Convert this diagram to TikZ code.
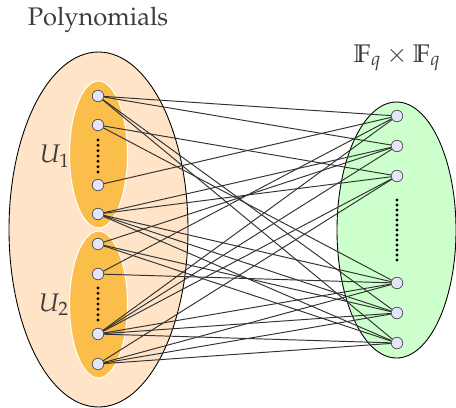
\documentclass[tikz,border=0pt]{standalone}
\usepackage[T1]{fontenc}
\usepackage{amsmath}
\usepackage{mathpazo}
\usepackage{tikz}
\usetikzlibrary{positioning,calc}

\definecolor{peach}{RGB}{255,228,200}
\definecolor{setorange}{RGB}{252,190,75}
\definecolor{setgreen}{RGB}{204,255,204}
\definecolor{vtxfill}{RGB}{228,228,250}
\definecolor{txtgray}{RGB}{60,60,60}

\tikzset{
  vtx/.style={circle,draw=black!70,fill=vtxfill,line width=0.4pt,inner sep=0pt,minimum size=0.23cm},
  edge/.style={black!80,line width=0.55pt},
  lbl/.style={text=txtgray,font=\fontsize{14.5}{17}\selectfont}
}

\begin{document}
\begin{tikzpicture}[x=0.02cm,y=-0.02cm]
        \useasboundingbox (0,0) rectangle (456,407);
        % the three sets
        \filldraw[fill=peach,draw=black,line width=0.5pt] (98.5,229.5) ellipse [x radius=89.5,y radius=177.5];
        \filldraw[fill=setorange,draw=white,line width=0.6pt] (98.5,154.5) ellipse [x radius=29,y radius=73.5];
        \filldraw[fill=setorange,draw=white,line width=0.6pt] (98.5,304.5) ellipse [x radius=29,y radius=73.5];
        \filldraw[fill=setgreen,draw=black,line width=0.5pt] (396.5,230) ellipse [x radius=59.5,y radius=128];
        % labels
        \node[lbl] (poly) at (98,20) {Polynomials};
        \node[lbl,anchor=base] (field) at (397,62) {$\mathbb{F}_q\times\mathbb{F}_q$};
        \node[lbl] (u1) at (55,156) {$U_1$};
        \node[lbl] (u2) at (54,305) {$U_2$};
        % dots
        \foreach \y in {0,...,6}{\fill (98,140+5.33*\y) circle [radius=1.6];}
        \foreach \y in {0,...,6}{\fill (98,288+5.33*\y) circle [radius=1.6];}
        \foreach \y in {0,...,12}{\fill (397,200+5*\y) circle [radius=1.6];}
        % vertices
        \foreach \i/\y in {1/96,2/125,3/185,4/214,5/244,6/274,7/334,8/364}
          \node[vtx] (l\i) at (98,\y) {};
        \foreach \j/\y in {1/116,2/146,3/176,4/283,5/313,6/343}
          \node[vtx] (r\j) at (397,\y) {};
        % edges
        \foreach \a/\b in {1/1,1/2,1/5,1/6,2/3,2/4,3/1,4/2,4/3,4/4,4/5,4/6,5/2,5/5,5/6,6/1,6/4,
            7/1,7/2,7/3,7/4,7/5,7/6,8/3,8/4,8/5,8/6}
          {\draw[edge] (l\a) -- (r\b);}
      \end{tikzpicture}
\end{document}
